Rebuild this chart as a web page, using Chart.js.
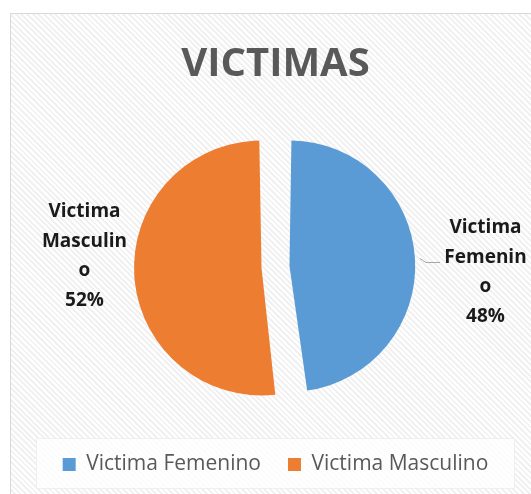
<!DOCTYPE html>
<html>
<head>
<meta charset="utf-8">
<script src="https://cdn.jsdelivr.net/npm/chart.js@4.4.1/dist/chart.umd.min.js"></script>
<style>
  html, body { margin: 0; padding: 0; background: #fff; }
  #wrap { position: relative; width: 531px; height: 494px; overflow: hidden; }
  #frame {
    position: absolute; left: 10px; top: 13px; width: 560px; height: 520px;
    border: 1px solid #d9d9d9;
    background: repeating-linear-gradient(45deg, #ffffff 0px, #ffffff 2px, #f1f1f1 2px, #f1f1f1 4px);
  }
  #legendBox {
    position: absolute; left: 36px; top: 438px; width: 477px; height: 49px;
    background: rgba(255,255,255,0.75);
    border: 1px solid rgba(230,230,230,0.6);
  }
  #chartBox { position: absolute; left: 0; top: 0; width: 531px; height: 494px; }
</style>
</head>
<body>
<div id="wrap">
  <div id="frame"></div>
  <div id="legendBox"></div>
  <div id="chartBox"><canvas id="pieChart"></canvas></div>
</div>
<script>
// Datos
const categorias = ['Victima Femenino', 'Victima Masculino'];
const valores = [48, 52];
const colores = ['#5B9BD5', '#ED7D31'];

// Etiquetas de datos al estilo Excel (nombre + porcentaje, con corte de palabra)
const etiquetasPlugin = {
    id: 'etiquetas',
    afterDatasetsDraw(chart) {
        const ctx = chart.ctx;
        const meta = chart.getDatasetMeta(0);
        const total = valores.reduce((a, b) => a + b, 0);
        // desplazamiento de cada bloque de texto respecto al centro del pastel
        const desp = [{ x: 210, y: 5 }, { x: -191, y: -11 }];
        ctx.save();
        ctx.font = 'bold 19px "Open Sans"';
        ctx.fillStyle = '#1a1a1a';
        ctx.textAlign = 'center';
        ctx.textBaseline = 'middle';
        meta.data.forEach((arc, i) => {
            const lineas = partir(ctx, categorias[i], 90);
            lineas.push(Math.round(valores[i] / total * 100) + '%');
            const alto = 29.5;
            const cx = arc.x + desp[i].x;
            const cy = arc.y + desp[i].y - (lineas.length - 1) * alto / 2;
            lineas.forEach((t, k) => ctx.fillText(t, cx, cy + k * alto));
        });
        // linea guia de la etiqueta derecha
        const a0 = meta.data[0];
        ctx.strokeStyle = '#a6a6a6';
        ctx.lineWidth = 1;
        ctx.beginPath();
        ctx.moveTo(a0.x + 144.5, a0.y - 8.5);
        ctx.lineTo(a0.x + 150.5, a0.y - 4.5);
        ctx.lineTo(a0.x + 164.5, a0.y - 4.5);
        ctx.stroke();
        ctx.restore();
    }
};

function partir(ctx, texto, maxAncho) {
    const lineas = [];
    let actual = '';
    texto.split(' ').forEach(palabra => {
        const prueba = actual ? actual + ' ' + palabra : palabra;
        if (ctx.measureText(prueba).width <= maxAncho) {
            actual = prueba;
            return;
        }
        if (actual) lineas.push(actual);
        actual = '';
        for (const ch of palabra) {
            if (ctx.measureText(actual + ch).width > maxAncho && actual) {
                lineas.push(actual);
                actual = ch;
            } else {
                actual += ch;
            }
        }
    });
    if (actual) lineas.push(actual);
    return lineas;
}

const pieChart = new Chart(document.getElementById('pieChart').getContext('2d'), {
    type: 'pie',
    data: {
        labels: categorias,
        datasets: [{
            data: valores,
            backgroundColor: colores,
            borderWidth: 0,
            offset: 56,
            radius: 113.5
        }]
    },
    options: {
        responsive: true,
        maintainAspectRatio: false,
        animation: false,
        rotation: 0,
        layout: { padding: { top: 41, left: 20, right: 0, bottom: 9 } },
        plugins: {
            title: {
                display: true,
                text: 'VICTIMAS',
                color: '#595959',
                font: { family: '"Open Sans"', size: 40, weight: 'bold' },
                padding: { top: 0, bottom: 18 }
            },
            legend: {
                position: 'bottom',
                labels: {
                    boxWidth: 13,
                    boxHeight: 13,
                    padding: 27,
                    color: '#595959',
                    font: { family: '"Open Sans"', size: 21 }
                }
            },
            tooltip: { enabled: false }
        }
    },
    plugins: [etiquetasPlugin]
});
</script>
</body>
</html>
